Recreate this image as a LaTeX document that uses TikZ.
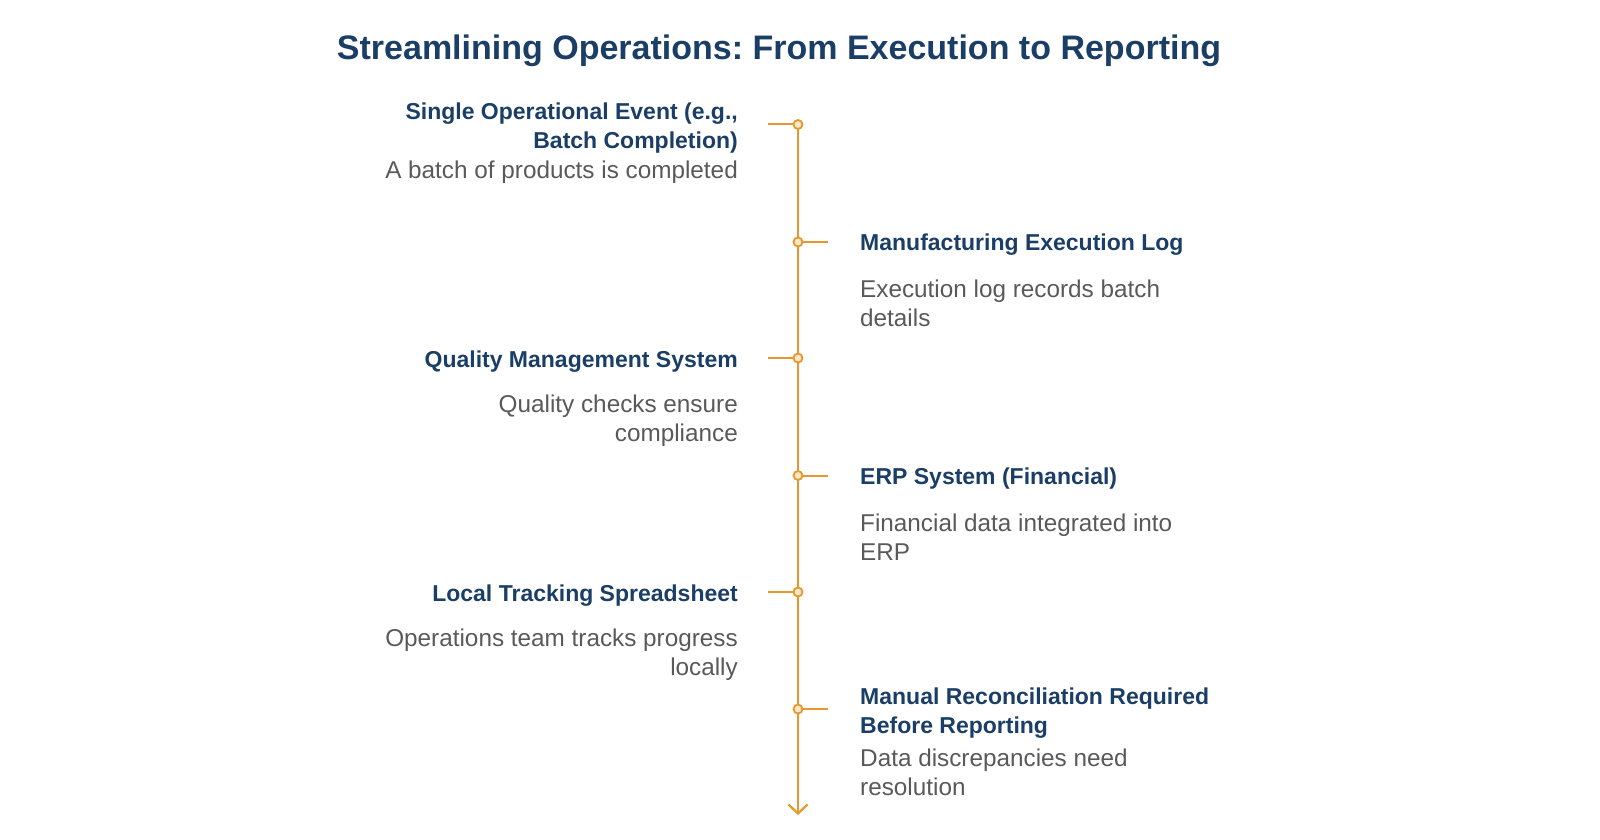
\documentclass[tikz,border=0pt]{standalone}
\usepackage{fontspec}
\setmainfont{Liberation Sans}
\frenchspacing
\usetikzlibrary{arrows.meta}
\definecolor{navy}{HTML}{1A3E66}
\definecolor{greytxt}{HTML}{595959}
\definecolor{tlorange}{HTML}{E8962E}
\definecolor{dotfill}{HTML}{FBE8C8}
\tikzset{
  heading/.style={inner sep=0pt, font=\fontsize{23}{29}\selectfont\bfseries, text=navy},
  desc/.style={inner sep=0pt, font=\fontsize{24.3}{29}\selectfont, text=greytxt},
  leftt/.style={anchor=east, align=right},
  rightt/.style={anchor=west, align=left},
  dot/.style={circle, draw=tlorange, fill=dotfill, line width=1.8pt, minimum size=9pt, inner sep=0pt},
  tick/.style={draw=tlorange, line width=2pt},
  axis/.style={draw=tlorange, line width=2.2pt, -{Straight Barb[length=9pt,width=19pt,line width=2.2pt]}}
}
\begin{document}
\begin{tikzpicture}[x=1pt,y=-1pt]
\useasboundingbox (0,0) rectangle (1600,840);
\node[inner sep=0pt, font=\fontsize{34}{40}\selectfont\bfseries, text=navy] (title) at (779,51) {Streamlining Operations: From Execution to Reporting};

% timeline dots and ticks
\coordinate (end) at (798,815);
\coordinate (t1) at (768,124.5);
\coordinate (t2) at (828,242);
\coordinate (t3) at (768,358);
\coordinate (t4) at (828,475.5);
\coordinate (t5) at (768,592);
\coordinate (t6) at (828,709);
\path (798,124.5) coordinate (p1) (798,242) coordinate (p2) (798,358) coordinate (p3)
      (798,475.5) coordinate (p4) (798,592) coordinate (p5) (798,709) coordinate (p6);
\draw[axis] (p1) -- (end);
\foreach \i in {1,...,6} { \draw[tick] (t\i) -- (p\i); }
\foreach \i in {1,...,6} { \node[dot] (d\i) at (p\i) {}; }

% texts
\node[heading, leftt] (h1) at (738,128) {Single Operational Event (e.g.,\\Batch Completion)};
\node[desc, leftt] (s1) at (738,172) {A batch of products is completed};

\node[heading, rightt] (h2) at (860,245) {Manufacturing Execution Log};
\node[desc, rightt] (s2) at (860,303) {Execution log records batch\\details};

\node[heading, leftt] (h3) at (738,362) {Quality Management System};
\node[desc, leftt] (s3) at (738,420.5) {Quality checks ensure\\compliance};

\node[heading, rightt] (h4) at (860,478.5) {ERP System (Financial)};
\node[desc, rightt] (s4) at (860,537.5) {Financial data integrated into\\ERP};

\node[heading, rightt] (h6) at (860,713) {Manual Reconciliation Required\\Before Reporting};
\node[desc, rightt] (s6) at (860,772) {Data discrepancies need\\resolution};

\node[heading, leftt] (h5) at (738,596) {Local Tracking Spreadsheet};
\node[desc, leftt] (s5) at (738,654.5) {Operations team tracks progress\\locally};
\end{tikzpicture}
\end{document}
